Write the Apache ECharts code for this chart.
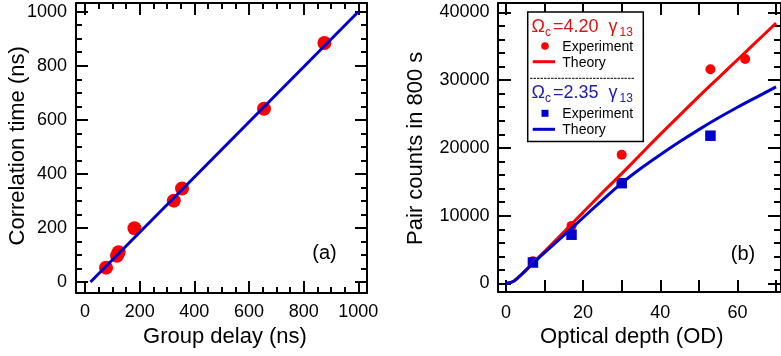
<!DOCTYPE html>
<html><head><meta charset="utf-8">
<script src="https://cdn.jsdelivr.net/npm/echarts@6/dist/echarts.min.js"></script>
<style>html,body{margin:0;padding:0;background:#fff}#c{width:781px;height:356px}</style>
</head><body><div id="c"></div>
<script>
const FONT = '"Liberation Sans", Arial, Helvetica, sans-serif';

// ---- panel (a) ----
const groupDelay = [77, 117, 123, 181, 325, 355, 655, 876];
const corrTime   = [53, 97, 110, 199, 301, 346, 641, 884];
const fitDelay = [20, 1000];
const fitCorr  = [0, 1000];
const ticksAx = [0, 200, 400, 600, 800, 1000];
const ticksAy = [0, 200, 400, 600, 800, 1000];
const minorA  = [50,100,150,250,300,350,450,500,550,650,700,750,850,900,950];

// ---- panel (b) ----
const odRed     = [7, 17, 30, 53, 62];
const countsRed = [3300, 8500, 19000, 31600, 33100];
const odBlue     = [7, 17, 30, 53];
const countsBlue = [3100, 7200, 14800, 21800];
const odTheory   = [0, 2, 4, 6, 8, 10, 15, 20, 25, 30, 35, 40, 45, 50, 55, 60, 65, 70];
const theoryRed  = [0, 340, 1330, 2460, 3600, 4700, 7600, 10500, 13400, 16200, 19100, 22000, 24800, 27600, 30300, 33000, 35700, 38400];
const theoryBlue = [0, 330, 1300, 2400, 3500, 4550, 7100, 9700, 12300, 14800, 17000, 19000, 20900, 22700, 24400, 26000, 27500, 29000];
const ticksBx  = [0, 10, 20, 30, 40, 50, 60, 70];
const labelsBx = [0, 20, 40, 60];
const ticksBy  = [0, 10000, 20000, 30000, 40000];
const minorBy  = [2000,4000,6000,8000,12000,14000,16000,18000,22000,24000,26000,28000,32000,34000,36000,38000];

const RED = '#ff0000', BLUE = '#0000cc';

function mkAxes(gridIndex, min, max, posMain, posOpp, major, minor, labels, majLen, minLen, margin) {
  const base = {type:'value', gridIndex, min, max, splitLine:{show:false}, axisPointer:{show:false}};
  const line = {show:true, onZero:false, lineStyle:{color:'#000', width:2}};
  const noLine = {show:false, onZero:false};
  const tick = (vals, len) => ({show:true, inside:true, length:len, customValues:vals, lineStyle:{color:'#000', width:2}});
  const out = [];
  out.push(Object.assign({}, base, {position:posMain, axisLine:line, axisTick:tick(major, majLen),
    axisLabel:{show:true, customValues:labels, margin, fontSize:18, color:'#000', fontFamily:FONT, formatter:v=>String(v)}}));
  out.push(Object.assign({}, base, {position:posOpp, axisLine:line, axisTick:tick(major, majLen), axisLabel:{show:false}}));
  if (minor) {
    out.push(Object.assign({}, base, {position:posMain, axisLine:noLine, axisTick:tick(minor, minLen), axisLabel:{show:false}}));
    out.push(Object.assign({}, base, {position:posOpp, axisLine:noLine, axisTick:tick(minor, minLen), axisLabel:{show:false}}));
  }
  return out;
}

const xA = mkAxes(0, -32.9, 1031.8, 'bottom', 'top', ticksAx, minorA, ticksAx, 12, 6, 10);
const yA = mkAxes(0, -40.7, 1032.2, 'left', 'right', ticksAy, minorA, ticksAy, 12, 6, 9);
const xB = mkAxes(1, -2.05, 71.28, 'bottom', 'top', ticksBx, null, labelsBx, 12, 6, 12);
const yB = mkAxes(1, -1250, 41370, 'left', 'right', ticksBy, minorBy, ticksBy, 13, 7, 8.5);
const xBase = xA.length, yBase = yA.length;

function txt(x, y, text, size, color, align, rot) {
  return {type:'text', x, y, rotation: rot || 0, z:100,
    style:{text, fontSize:size, fontFamily:FONT, fill:color,
      align: align || 'left', verticalAlign:'middle', textAlign: align || 'left', textVerticalAlign:'middle'}};
}

const graphic = [
  txt(225, 337.4, 'Group delay (ns)', 22, '#000', 'center'),
  txt(18.1, 145.8, 'Correlation time (ns)', 22, '#000', 'center', Math.PI/2),
  txt(631.8, 337.4, 'Optical depth (OD)', 22, '#000', 'center'),
  txt(416.4, 148.3, 'Pair counts in 800 s', 22, '#000', 'center', Math.PI/2),
  txt(324.5, 253.9, '(a)', 20, '#000', 'center'),
  txt(743, 254.8, '(b)', 20, '#000', 'center'),
  // legend box
  {type:'rect', z:99, shape:{x:527.7, y:12, width:115.6, height:129.5}, style:{fill:'#fff', stroke:'#000', lineWidth:1.5}},
  txt(531.5, 27.1, 'Ω', 18, '#e01010'),
  txt(545, 32.3, 'c', 12, '#e01010'),
  txt(553, 27.1, '=4.20', 18, '#e01010'),
  txt(608.5, 27.1, 'γ', 18, '#e01010'),
  txt(619.5, 32.3, '13', 12, '#e01010'),
  {type:'circle', z:100, shape:{cx:545, cy:46, r:3.8}, style:{fill:RED}},
  txt(562.3, 46.8, 'Experiment', 14, '#000'),
  {type:'line', z:100, shape:{x1:532.7, y1:61.7, x2:555, y2:61.7}, style:{stroke:RED, lineWidth:3}},
  txt(562.3, 62.8, 'Theory', 14, '#000'),
  {type:'line', z:100, shape:{x1:530, y1:78.3, x2:635, y2:78.3}, style:{stroke:'#000', lineWidth:1, lineDash:[2.5,1]}},
  txt(531.5, 93.1, 'Ω', 18, '#2020b0'),
  txt(545, 98.3, 'c', 12, '#2020b0'),
  txt(553, 93.1, '=2.35', 18, '#2020b0'),
  txt(608.5, 93.1, 'γ', 18, '#2020b0'),
  txt(619.5, 98.3, '13', 12, '#2020b0'),
  {type:'rect', z:100, shape:{x:541.5, y:109.8, width:7, height:7}, style:{fill:BLUE}},
  txt(562.3, 114.2, 'Experiment', 14, '#000'),
  {type:'line', z:100, shape:{x1:532.7, y1:129.3, x2:555, y2:129.3}, style:{stroke:BLUE, lineWidth:3}},
  txt(562.3, 130.1, 'Theory', 14, '#000')
];

const chart = echarts.init(document.getElementById('c'), null, {renderer:'canvas'});
chart.setOption({
  animation:false,
  backgroundColor:'#fff',
  textStyle:{fontFamily:FONT},
  grid:[
    {left:76, top:3, width:291, height:290, containLabel:false},
    {left:498, top:3, width:286, height:289, containLabel:false}
  ],
  xAxis: xA.concat(xB),
  yAxis: yA.concat(yB),
  series:[
    {type:'scatter', xAxisIndex:0, yAxisIndex:0, symbol:'circle', symbolSize:14,
     itemStyle:{color:RED, opacity:1}, data: groupDelay.map((x,i)=>[x, corrTime[i]])},
    {type:'line', xAxisIndex:0, yAxisIndex:0, showSymbol:false, symbol:'none',
     lineStyle:{color:BLUE, width:3}, data: fitDelay.map((x,i)=>[x, fitCorr[i]])},
    {type:'line', xAxisIndex:xBase, yAxisIndex:yBase, showSymbol:false, symbol:'none', smooth:0.25,
     lineStyle:{color:RED, width:3}, data: odTheory.map((x,i)=>[x, theoryRed[i]])},
    {type:'scatter', xAxisIndex:xBase, yAxisIndex:yBase, symbol:'circle', symbolSize:10,
     itemStyle:{color:RED, opacity:1}, data: odRed.map((x,i)=>[x, countsRed[i]])},
    {type:'line', xAxisIndex:xBase, yAxisIndex:yBase, showSymbol:false, symbol:'none', smooth:0.25,
     lineStyle:{color:BLUE, width:3}, data: odTheory.map((x,i)=>[x, theoryBlue[i]])},
    {type:'scatter', xAxisIndex:xBase, yAxisIndex:yBase, symbol:'rect', symbolSize:10.5,
     itemStyle:{color:BLUE, opacity:1}, data: odBlue.map((x,i)=>[x, countsBlue[i]])}
  ],
  graphic: graphic
});
</script></body></html>
